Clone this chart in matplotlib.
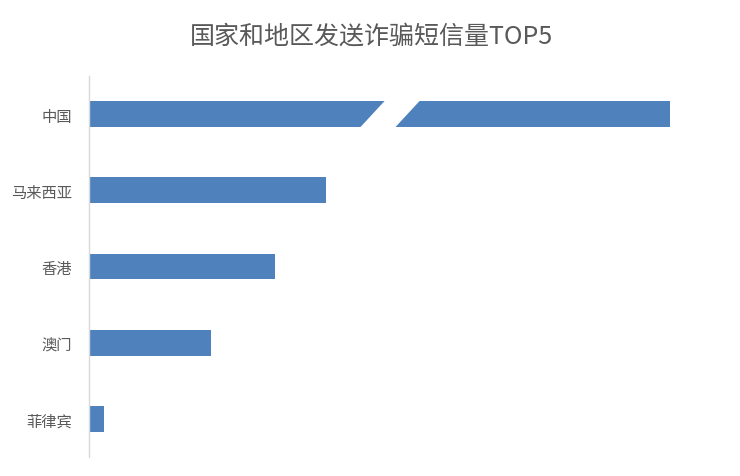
import matplotlib
matplotlib.use("Agg")
import matplotlib.pyplot as plt
from matplotlib.patches import Polygon

plt.rcParams['font.family'] = ['Noto Sans CJK SC', 'DejaVu Sans']

TITLE = "国家和地区发送诈骗短信量TOP5"

countries = ["中国", "马来西亚", "香港", "澳门", "菲律宾"]
# bar lengths as drawn (the 中国 bar is broken, so this is its drawn length)
counts = [581, 237, 186, 122, 15]

BAR_COLOR = "#4F81BD"
TEXT_COLOR = "#595959"


def draw_chart():

    fig = plt.figure(figsize=(7.4, 4.77), dpi=100)
    ax = fig.add_axes([89 / 740, 19 / 477, 611 / 740, 381 / 477])

    ypos = list(range(len(countries)))
    bar_h = 0.34

    ax.barh(ypos, counts, height=bar_h, color=BAR_COLOR)

    # axis break on the first bar
    brk = counts[0] * 0.518
    ext = bar_h / 2 + 0.03
    slant = 24 * ext / (bar_h / 2) / 2
    gap = 35
    ax.add_patch(Polygon(
        [(brk - slant - gap / 2, ypos[0] + ext),
         (brk + slant - gap / 2, ypos[0] - ext),
         (brk + slant + gap / 2, ypos[0] - ext),
         (brk - slant + gap / 2, ypos[0] + ext)],
        closed=True, facecolor="white", edgecolor="none", zorder=3))

    ax.set_xlim(0, 611)
    ax.set_ylim(len(countries) - 0.5, -0.5)

    ax.set_yticks(ypos)
    ax.set_yticklabels(countries, fontsize=11, color=TEXT_COLOR)
    ax.tick_params(axis="y", length=0, pad=12)
    ax.set_xticks([])

    for side in ["top", "right", "bottom"]:
        ax.spines[side].set_visible(False)
    ax.spines["left"].set_color("#D9D9D9")
    ax.spines["left"].set_linewidth(1)

    fig.text(372 / 740, 1 - 37 / 477, TITLE, ha="center", va="center",
             fontsize=18, color=TEXT_COLOR)

    fig.savefig("out.png", dpi=100)
    plt.close(fig)


if __name__ == "__main__":

    draw_chart()
